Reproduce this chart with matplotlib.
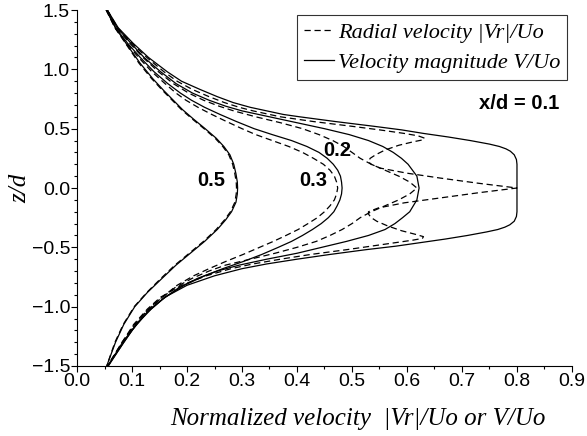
import matplotlib
matplotlib.use("Agg")
import matplotlib.pyplot as plt
from matplotlib.ticker import MultipleLocator, FuncFormatter

# station labels
stations = ["x/d = 0.1", "0.2", "0.3", "0.5"]

# x/d = 0.1, velocity magnitude V/Uo
z_v01 = [1.5, 1.35, 1.22, 1.1, 0.98, 0.9, 0.83, 0.77, 0.72, 0.68, 0.65, 0.62, 0.6, 0.56,
         0.52, 0.49, 0.46, 0.43, 0.4, 0.37, 0.35, 0.33, 0.31, 0.28, 0.24, 0.2, 0.0,
         -0.2, -0.24, -0.28, -0.31, -0.33, -0.35, -0.37, -0.4, -0.43, -0.46, -0.49,
         -0.52, -0.56, -0.6, -0.64, -0.68, -0.74, -0.82, -0.92, -1.02, -1.15, -1.3, -1.5]
v01 = [0.055, 0.075, 0.102, 0.13, 0.164, 0.19, 0.224, 0.255, 0.284, 0.315, 0.345, 0.375,
       0.405, 0.47, 0.54, 0.59, 0.63, 0.675, 0.715, 0.75, 0.768, 0.78, 0.788, 0.795, 0.799,
       0.8, 0.8,
       0.8, 0.799, 0.795, 0.787, 0.778, 0.765, 0.745, 0.71, 0.67, 0.625, 0.58, 0.525,
       0.46, 0.4, 0.345, 0.3, 0.25, 0.2, 0.16, 0.135, 0.108, 0.085, 0.057]

# x/d = 0.1, radial velocity |Vr|/Uo
z_r01 = [1.5, 1.35, 1.22, 1.1, 0.98, 0.9, 0.83, 0.77, 0.72, 0.68, 0.65, 0.62, 0.6, 0.56,
         0.52, 0.49, 0.46, 0.44, 0.42, 0.405, 0.39, 0.36, 0.32, 0.28, 0.25, 0.22, 0.2,
         0.168, 0.125, 0.084, 0.04, 0.0, -0.04, -0.084, -0.125, -0.168, -0.2, -0.22,
         -0.25, -0.28, -0.32, -0.36, -0.39, -0.41, -0.425, -0.44, -0.46, -0.49, -0.52,
         -0.56, -0.6, -0.64, -0.68, -0.74, -0.82, -0.92, -1.02, -1.15, -1.3, -1.5]
r01 = [0.055, 0.074, 0.1, 0.127, 0.158, 0.182, 0.21, 0.24, 0.268, 0.295, 0.32, 0.35, 0.37,
       0.43, 0.5, 0.55, 0.595, 0.62, 0.632, 0.628, 0.612, 0.585, 0.56, 0.543, 0.533, 0.53,
       0.535, 0.551, 0.6, 0.66, 0.73, 0.8, 0.73, 0.66, 0.595, 0.548, 0.53, 0.53, 0.535,
       0.545, 0.565, 0.59, 0.615, 0.63, 0.628, 0.61, 0.58, 0.535, 0.49, 0.425, 0.37, 0.32,
       0.28, 0.235, 0.19, 0.152, 0.128, 0.103, 0.082, 0.056]

# x/d = 0.2
z_v02 = [1.5, 1.35, 1.22, 1.1, 0.98, 0.88, 0.8, 0.74, 0.69, 0.65, 0.6, 0.55, 0.5, 0.45,
         0.4, 0.35, 0.3, 0.25, 0.2, 0.1, 0.0, -0.1, -0.2, -0.25, -0.3, -0.35, -0.4, -0.45,
         -0.5, -0.55, -0.6, -0.65, -0.7, -0.76, -0.84, -0.94, -1.05, -1.2, -1.35, -1.5]
v02 = [0.055, 0.073, 0.098, 0.122, 0.152, 0.18, 0.21, 0.24, 0.27, 0.3, 0.35, 0.4, 0.45,
       0.495, 0.53, 0.556, 0.575, 0.59, 0.602, 0.618, 0.622, 0.618, 0.605, 0.592, 0.578,
       0.56, 0.53, 0.49, 0.445, 0.4, 0.345, 0.295, 0.255, 0.22, 0.185, 0.155, 0.127, 0.1,
       0.078, 0.056]
z_r02 = [1.5, 1.35, 1.22, 1.1, 0.98, 0.88, 0.8, 0.74, 0.69, 0.65, 0.6, 0.55, 0.5, 0.45,
         0.4, 0.35, 0.3, 0.25, 0.2, 0.15, 0.1, 0.05, 0.0, -0.05, -0.1, -0.15, -0.2, -0.25,
         -0.3, -0.35, -0.4, -0.45, -0.5, -0.55, -0.6, -0.65, -0.7, -0.76, -0.84, -0.94,
         -1.05, -1.2, -1.35, -1.5]
r02 = [0.055, 0.072, 0.096, 0.12, 0.148, 0.175, 0.203, 0.23, 0.258, 0.285, 0.325, 0.37,
       0.41, 0.44, 0.465, 0.485, 0.5, 0.515, 0.535, 0.56, 0.585, 0.605, 0.618, 0.605,
       0.585, 0.56, 0.535, 0.515, 0.5, 0.482, 0.46, 0.435, 0.4, 0.36, 0.315, 0.27, 0.24,
       0.21, 0.178, 0.15, 0.124, 0.098, 0.077, 0.056]

# x/d = 0.3
z_v03 = [1.5, 1.35, 1.22, 1.1, 0.98, 0.88, 0.8, 0.74, 0.68, 0.62, 0.56, 0.5, 0.45, 0.4,
         0.35, 0.3, 0.25, 0.2, 0.15, 0.1, 0.05, 0.0, -0.05, -0.1, -0.15, -0.2, -0.25, -0.3,
         -0.35, -0.4, -0.45, -0.5, -0.56, -0.62, -0.68, -0.74, -0.82, -0.92, -1.02, -1.15,
         -1.3, -1.5]
v03 = [0.054, 0.07, 0.092, 0.115, 0.14, 0.165, 0.188, 0.208, 0.232, 0.26, 0.29, 0.322,
       0.355, 0.39, 0.418, 0.44, 0.455, 0.466, 0.474, 0.479, 0.481, 0.482, 0.481, 0.478,
       0.473, 0.467, 0.457, 0.444, 0.428, 0.41, 0.39, 0.366, 0.336, 0.302, 0.265, 0.232,
       0.195, 0.16, 0.133, 0.108, 0.083, 0.056]
z_r03 = z_v03
r03 = [0.054, 0.069, 0.09, 0.112, 0.136, 0.16, 0.18, 0.198, 0.22, 0.245, 0.272, 0.3,
       0.325, 0.355, 0.385, 0.41, 0.43, 0.448, 0.46, 0.468, 0.472, 0.474, 0.472, 0.468,
       0.46, 0.45, 0.437, 0.42, 0.402, 0.38, 0.357, 0.332, 0.302, 0.27, 0.24, 0.212,
       0.182, 0.155, 0.13, 0.105, 0.082, 0.055]

# x/d = 0.5
z_v05 = [1.5, 1.35, 1.2, 1.05, 0.92, 0.82, 0.74, 0.66, 0.58, 0.5, 0.42, 0.35, 0.28, 0.2,
         0.12, 0.05, 0.0, -0.05, -0.12, -0.2, -0.27, -0.35, -0.45, -0.55, -0.65, -0.76,
         -0.88, -1.0, -1.15, -1.3, -1.5]
v05 = [0.053, 0.07, 0.092, 0.115, 0.138, 0.158, 0.175, 0.192, 0.212, 0.233, 0.253, 0.267,
       0.278, 0.285, 0.289, 0.2915, 0.292, 0.2915, 0.289, 0.281, 0.27, 0.255, 0.232, 0.206,
       0.18, 0.155, 0.128, 0.105, 0.085, 0.07, 0.054]
z_r05 = z_v05
r05 = [0.053, 0.069, 0.091, 0.113, 0.136, 0.156, 0.173, 0.19, 0.21, 0.231, 0.251, 0.265,
       0.276, 0.283, 0.287, 0.2895, 0.29, 0.2895, 0.287, 0.279, 0.268, 0.253, 0.23, 0.204,
       0.178, 0.153, 0.127, 0.104, 0.084, 0.069, 0.054]

# label anchor points (data coords)
label_x = [0.803, 0.473, 0.43, 0.244]
label_z = [0.71, 0.32, 0.06, 0.06]

fig = plt.figure(figsize=(5.87, 4.36), dpi=100)
ax = fig.add_axes([0.1312, 0.1606, 0.8432, 0.8164])

dash = (0, (5, 3))
lw = 0.9
ax.plot(r01, z_r01, color="black", lw=lw, linestyle=dash, label="Radial velocity |Vr|/Uo")
ax.plot(v01, z_v01, color="black", lw=lw, label="Velocity magnitude V/Uo")
ax.plot(r02, z_r02, color="black", lw=lw, linestyle=dash)
ax.plot(v02, z_v02, color="black", lw=lw)
ax.plot(r03, z_r03, color="black", lw=lw, linestyle=dash)
ax.plot(v03, z_v03, color="black", lw=lw)
ax.plot(r05, z_r05, color="black", lw=lw, linestyle=dash)
ax.plot(v05, z_v05, color="black", lw=lw)

for s, lx, lz in zip(stations, label_x, label_z):
    ax.text(lx, lz, s, ha="center", va="center", fontsize=14.5, fontweight="bold",
            family="Liberation Sans")


def fmt(v, pos):
    return ("%.1f" % v).replace("-", "\u2212")


ax.set_xlim(0, 0.9)
ax.set_ylim(-1.5, 1.5)
ax.xaxis.set_major_locator(MultipleLocator(0.1))
ax.xaxis.set_minor_locator(MultipleLocator(0.05))
ax.yaxis.set_major_locator(MultipleLocator(0.5))
ax.yaxis.set_minor_locator(MultipleLocator(0.1))
ax.xaxis.set_major_formatter(FuncFormatter(fmt))
ax.yaxis.set_major_formatter(FuncFormatter(fmt))
ax.tick_params(which="major", direction="out", length=4, width=0.8, labelsize=14, pad=1)
ax.tick_params(which="minor", direction="out", length=2.5, width=0.8)
for lab in ax.get_xticklabels() + ax.get_yticklabels():
    lab.set_family("Liberation Sans")

for side in ["top", "right"]:
    ax.spines[side].set_visible(False)
for side in ["left", "bottom"]:
    ax.spines[side].set_linewidth(0.8)

ax.set_xlabel("Normalized velocity  |Vr|/Uo or V/Uo", family="Liberation Serif",
              style="italic", fontsize=18)
ax.xaxis.set_label_coords(0.568, -0.15)
ax.xaxis.label.set_va("center")
ax.set_ylabel("z/d", family="Liberation Serif", style="italic", fontsize=18)
ax.yaxis.set_label_coords(-0.115, 0.5)
ax.yaxis.label.set_va("center")

leg = ax.legend(loc="upper right", bbox_to_anchor=(0.99, 0.985), frameon=True, fancybox=False,
                prop={"family": "Liberation Serif", "style": "italic", "size": 16},
                handlelength=1.35, handletextpad=0.2, borderpad=0.3, labelspacing=0.45,
                borderaxespad=0)
leg.get_frame().set_edgecolor("black")
leg.get_frame().set_linewidth(0.8)

fig.savefig("out.png", dpi=100)
